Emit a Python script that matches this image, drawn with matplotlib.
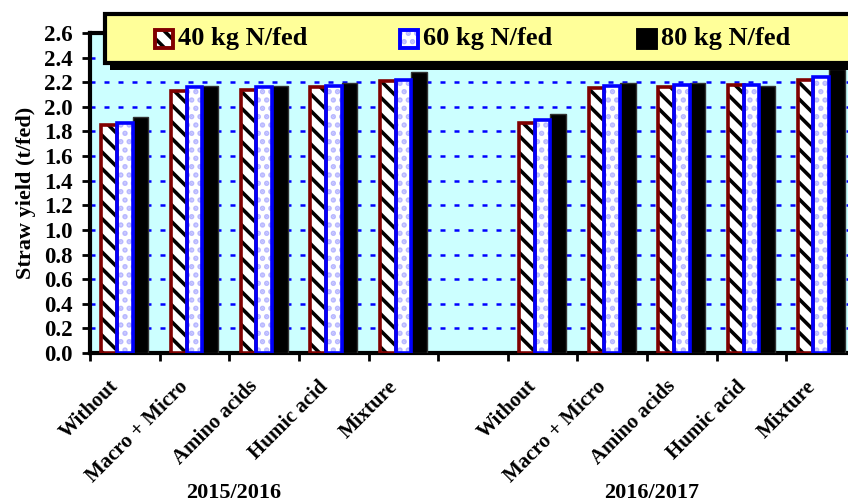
import matplotlib
matplotlib.use("Agg")
import matplotlib.pyplot as plt
import numpy as np
from matplotlib.patches import Rectangle
from matplotlib.transforms import blended_transform_factory

plt.rcParams['font.family'] = ['Liberation Serif', 'DejaVu Serif']
plt.rcParams['font.weight'] = 'bold'

treatments = ["Without", "Macro + Micro", "Amino acids", "Humic acid", "Mixture"]
seasons = ["2015/2016", "2016/2017"]
series_names = ["40 kg N/fed", "60 kg N/fed", "80 kg N/fed"]

s1_40 = [1.85, 2.13, 2.14, 2.16, 2.21]
s1_60 = [1.87, 2.16, 2.16, 2.17, 2.22]
s1_80 = [1.92, 2.17, 2.17, 2.19, 2.28]
s2_40 = [1.87, 2.15, 2.16, 2.18, 2.22]
s2_60 = [1.89, 2.17, 2.18, 2.18, 2.24]
s2_80 = [1.94, 2.19, 2.19, 2.17, 2.31]

W, H = 848, 504
fig = plt.figure(figsize=(W / 100, H / 100), dpi=100)

def fx(x):
    return x / W

def fy(y):
    return 1 - y / H

ax = fig.add_axes([fx(90), fy(353), fx(856) - fx(90), fy(33) - fy(353)])
ax.set_facecolor('#CCFFFF')

n = len(treatments)
pos1 = np.arange(n)
pos2 = np.arange(n) + n + 1
positions = np.concatenate([pos1, pos2])
v40 = np.array(s1_40 + s2_40)
v60 = np.array(s1_60 + s2_60)
v80 = np.array(s1_80 + s2_80)

w = 0.225
plt.rcParams['hatch.linewidth'] = 2.6
ax.bar(positions - w, v40, w, color='white', edgecolor='black', hatch='\\\\', linewidth=0, zorder=3)
ax.bar(positions - w, v40, w, fill=False, edgecolor='#800000', linewidth=2.6, zorder=4)
ax.bar(positions, v60, w, color='white', edgecolor='#B8B8FF', hatch='..', linewidth=0, zorder=3)
ax.bar(positions, v60, w, fill=False, edgecolor='#0000FF', linewidth=2.6, zorder=4)
ax.bar(positions + w, v80, w, color='black', edgecolor='#333333', linewidth=1, zorder=3)

ax.set_xlim(-0.5, 2 * n + 0.5)
ax.set_ylim(0, 2.6)
yt = np.arange(0, 2.61, 0.2)
ax.set_yticks(yt)
ax.set_yticklabels([f"{v:.1f}" for v in yt], fontsize=16.5, fontweight='bold')
ax.yaxis.grid(True, color='#0000FF', linewidth=1.8, linestyle=(0, (2.0, 3.6)), zorder=1)
ax.set_axisbelow(True)

# category labels: anchored slightly left of each group centre (as in the original)
label_offset = 0.23
ax.set_xticks(positions - label_offset)
ax.set_xticklabels(treatments + treatments, rotation=45, ha='right', va='top',
                   rotation_mode='anchor', fontsize=15, fontweight='bold')
ax.set_xticks(np.arange(-0.5, 2 * n + 1, 1), minor=True)
ax.tick_params(axis='x', which='major', length=0, pad=17)
ax.tick_params(axis='x', which='minor', length=6, width=2, direction='out')
ax.tick_params(axis='y', length=6, width=2, direction='out', pad=6.5)

for sp in ax.spines.values():
    sp.set_linewidth(3)
    sp.set_color('black')

ax.set_ylabel("Straw yield (t/fed)", fontsize=16, fontweight='bold', labelpad=6)

tr = blended_transform_factory(ax.transData, fig.transFigure)
centers = [pos1.mean() - 0.43, pos2.mean() - 0.43]
for c, s in zip(centers, seasons):
    ax.text(c, fy(493), s, transform=tr, ha='center', va='center', fontsize=16, fontweight='bold')

# legend box with shadow
fig.add_artist(Rectangle((fx(110), fy(70)), fx(900) - fx(110), fy(20) - fy(70),
                         transform=fig.transFigure, facecolor='black', edgecolor='none', zorder=10))
fig.add_artist(Rectangle((fx(105), fy(63)), fx(900) - fx(105), fy(14) - fy(63),
                         transform=fig.transFigure, facecolor='#FFFF99', edgecolor='black',
                         linewidth=3, zorder=11))
x0s = [155, 400, 638]
styles = [dict(facecolor='white', hatch='\\\\', hatchedge='black', border='#800000'),
          dict(facecolor='white', hatch='..', hatchedge='#B8B8FF', border='#0000FF'),
          dict(facecolor='black', hatch=None, hatchedge='black', border='black')]
for x0, name, st in zip(x0s, series_names, styles):
    fig.add_artist(Rectangle((fx(x0), fy(48)), fx(18), 18 / H, transform=fig.transFigure,
                             facecolor=st['facecolor'], edgecolor=st['hatchedge'], hatch=st['hatch'],
                             linewidth=0, zorder=12))
    fig.add_artist(Rectangle((fx(x0), fy(48)), fx(18), 18 / H, transform=fig.transFigure,
                             fill=False, edgecolor=st['border'], linewidth=2.8, zorder=13))
    fig.text(fx(x0 + 23), fy(38.5), name, ha='left', va='center', fontsize=19,
             fontweight='bold', zorder=14)

fig.savefig("out.png", dpi=100)
